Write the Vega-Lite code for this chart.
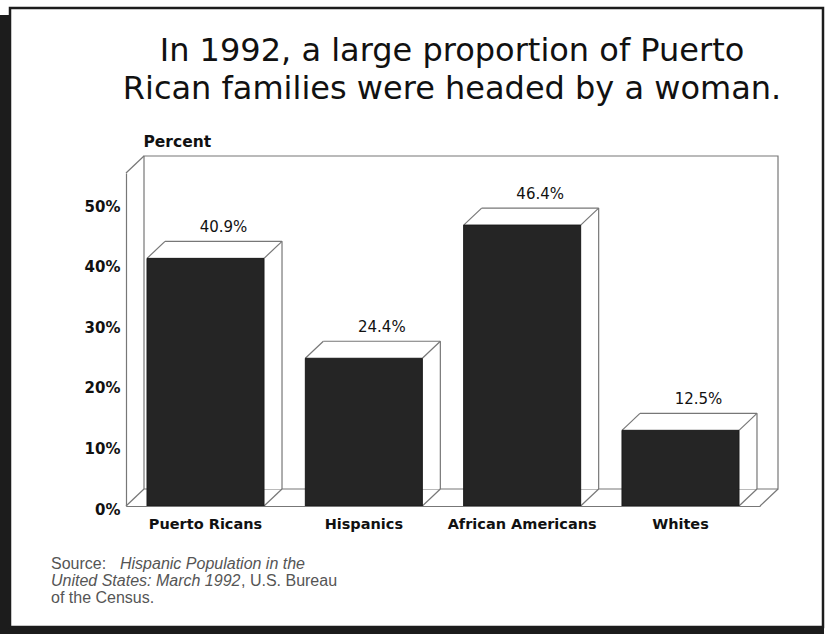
{
  "$schema": "https://vega.github.io/schema/vega-lite/v6.json",
  "width": 634,
  "height": 333,
  "autosize": {"type": "none"},
  "padding": {"left": 126, "top": 173, "right": 73, "bottom": 128},
  "background": "white",
  "config": {"view": {"stroke": null}, "font": "DejaVu Sans"},
  "title": {
    "text": ["In 1992, a large proportion of Puerto", "Rican families were headed by a woman."],
    "font": "DejaVu Sans",
    "fontSize": 32,
    "fontWeight": "normal",
    "color": "#111111",
    "lineHeight": 38,
    "anchor": "middle",
    "frame": "group",
    "dx": 9,
    "offset": 0,
    "dy": 99,
    "zindex": 1
  },
  "data": {
    "values": [
      {"group": "Puerto Ricans", "percent": 40.9, "label": "40.9%"},
      {"group": "Hispanics", "percent": 24.4, "label": "24.4%"},
      {"group": "African Americans", "percent": 46.4, "label": "46.4%"},
      {"group": "Whites", "percent": 12.5, "label": "12.5%"}
    ]
  },
  "layer": [
    {
      "data": {"values": [{}]},
      "encoding": {
        "x": {"datum": 0, "type": "quantitative", "scale": {"domain": [0, 1], "nice": false, "zero": false}, "axis": null}
      },
      "layer": [
        {
          "mark": {"type": "rect", "fill": "#1c1c1c", "xOffset": -126, "x2Offset": -116, "yOffset": -158, "y2Offset": 128},
          "encoding": {"x2": {"datum": 0}, "y": {"datum": 55, "type": "quantitative"}, "y2": {"datum": 0}}
        },
        {
          "mark": {"type": "rect", "fill": "#1c1c1c", "xOffset": -126, "x2Offset": 64, "yOffset": 121, "y2Offset": 128},
          "encoding": {"x2": {"datum": 1}, "y": {"datum": 0, "type": "quantitative"}, "y2": {"datum": 0}}
        },
        {
          "mark": {"type": "rect", "filled": false, "stroke": "#1c1c1c", "strokeWidth": 2.5, "xOffset": -116, "x2Offset": 63, "yOffset": -165, "y2Offset": 121},
          "encoding": {"x2": {"datum": 1}, "y": {"datum": 55, "type": "quantitative"}, "y2": {"datum": 0}}
        },
        {
          "mark": {"type": "rect", "fill": "white", "stroke": "#777777", "strokeWidth": 1.2, "xOffset": 18, "x2Offset": 18, "yOffset": -17, "y2Offset": -17},
          "encoding": {"x2": {"datum": 1}, "y": {"datum": 55, "type": "quantitative"}, "y2": {"datum": 0}}
        },
        {
          "mark": {"type": "rule", "stroke": "#777777", "strokeWidth": 1.2, "x2Offset": 18, "y2Offset": -17},
          "encoding": {"x2": {"datum": 0}, "y": {"datum": 55, "type": "quantitative"}, "y2": {"datum": 55}}
        },
        {
          "mark": {"type": "rule", "stroke": "#777777", "strokeWidth": 1.2, "x2Offset": 18, "y2Offset": -17},
          "encoding": {"x2": {"datum": 0}, "y": {"datum": 0, "type": "quantitative"}, "y2": {"datum": 0}}
        },
        {
          "mark": {"type": "rule", "stroke": "#777777", "strokeWidth": 1.2, "x2Offset": 18, "y2Offset": -17},
          "encoding": {"x": {"datum": 1, "type": "quantitative"}, "x2": {"datum": 1}, "y": {"datum": 0, "type": "quantitative"}, "y2": {"datum": 0}}
        },
        {
          "mark": {"type": "text", "font": "Liberation Sans", "fontSize": 16, "color": "#555555", "align": "left", "baseline": "alphabetic", "dx": -75, "dy": 63},
          "encoding": {"y": {"datum": 0, "type": "quantitative"}, "text": {"value": "Source:"}}
        },
        {
          "mark": {"type": "text", "font": "Liberation Sans", "fontSize": 16, "fontStyle": "italic", "color": "#555555", "align": "left", "baseline": "alphabetic", "dx": -6, "dy": 63},
          "encoding": {"y": {"datum": 0, "type": "quantitative"}, "text": {"value": "Hispanic Population in the"}}
        },
        {
          "mark": {"type": "text", "font": "Liberation Sans", "fontSize": 16, "fontStyle": "italic", "color": "#555555", "align": "left", "baseline": "alphabetic", "dx": -75, "dy": 80},
          "encoding": {"y": {"datum": 0, "type": "quantitative"}, "text": {"value": "United States: March 1992"}}
        },
        {
          "mark": {"type": "text", "font": "Liberation Sans", "fontSize": 16, "color": "#555555", "align": "left", "baseline": "alphabetic", "dx": 115, "dy": 80},
          "encoding": {"y": {"datum": 0, "type": "quantitative"}, "text": {"value": ", U.S. Bureau"}}
        },
        {
          "mark": {"type": "text", "font": "Liberation Sans", "fontSize": 16, "color": "#555555", "align": "left", "baseline": "alphabetic", "dx": -75, "dy": 97},
          "encoding": {"y": {"datum": 0, "type": "quantitative"}, "text": {"value": "of the Census."}}
        }
      ]
    },
    {
      "encoding": {
        "x": {
          "field": "group",
          "type": "nominal",
          "sort": null,
          "scale": {"paddingInner": 0.261, "paddingOuter": 0.1327},
          "axis": {
            "title": null,
            "labelAngle": 0,
            "labelFont": "DejaVu Sans",
            "labelFontWeight": "bold",
            "labelFontSize": 14.5,
            "labelColor": "#111111",
            "labelPadding": 11,
            "ticks": false,
            "domainColor": "#777777",
            "domainWidth": 1.2,
            "zindex": 1
          }
        },
        "y": {
          "field": "percent",
          "type": "quantitative",
          "scale": {"domain": [0, 55], "nice": false},
          "axis": {
            "values": [0, 10, 20, 30, 40, 50],
            "labelExpr": "datum.value + '%'",
            "ticks": false,
            "grid": false,
            "domainColor": "#777777",
            "domainWidth": 1.2,
            "labelFont": "DejaVu Sans",
            "labelFontWeight": "bold",
            "labelFontSize": 15,
            "labelColor": "#111111",
            "labelPadding": 6,
            "labelOffset": 3,
            "title": "Percent",
            "titleFont": "DejaVu Sans",
            "titleAngle": 0,
            "titleAlign": "left",
            "titleBaseline": "alphabetic",
            "titleX": 17,
            "titleY": -27,
            "titleFontSize": 15.5,
            "titleFontWeight": "bold",
            "titleColor": "#111111",
            "zindex": 1
          }
        }
      },
      "layer": [
        {
          "mark": {"type": "rect", "fill": "white", "strokeWidth": 0, "xOffset": 18, "yOffset": -17, "y2Offset": -17},
          "encoding": {"y2": {"datum": 0}}
        },
        {
          "mark": {"type": "rect", "filled": false, "stroke": "#777777", "strokeWidth": 1.2, "xOffset": 18, "yOffset": -17, "y2Offset": -17},
          "encoding": {"y2": {"field": "percent"}}
        },
        {
          "mark": {"type": "rule", "stroke": "#777777", "strokeWidth": 1.2, "xOffset": 18, "yOffset": -17, "y2Offset": -17},
          "encoding": {"x": {"field": "group", "type": "nominal", "sort": null, "bandPosition": 1}, "y2": {"datum": 0}}
        },
        {
          "mark": {"type": "rule", "stroke": "#777777", "strokeWidth": 1.2, "x2Offset": 18, "y2Offset": -17},
          "encoding": {"x": {"field": "group", "type": "nominal", "sort": null, "bandPosition": 0}, "x2": {"field": "group", "bandPosition": 0}, "y2": {"field": "percent"}}
        },
        {
          "mark": {"type": "rule", "stroke": "#777777", "strokeWidth": 1.2, "x2Offset": 18, "y2Offset": -17},
          "encoding": {"x": {"field": "group", "type": "nominal", "sort": null, "bandPosition": 1}, "x2": {"field": "group", "bandPosition": 1}, "y2": {"field": "percent"}}
        },
        {
          "mark": {"type": "rule", "stroke": "#777777", "strokeWidth": 1.2, "x2Offset": 18, "y2Offset": -17},
          "encoding": {"x": {"field": "group", "type": "nominal", "sort": null, "bandPosition": 1}, "x2": {"field": "group", "bandPosition": 1}, "y": {"datum": 0, "type": "quantitative"}, "y2": {"datum": 0}}
        },
        {
          "mark": {"type": "rect", "fill": "#252525", "stroke": "#1a1a1a", "strokeWidth": 1},
          "encoding": {"y2": {"datum": 0}}
        },
        {
          "mark": {"type": "text", "font": "DejaVu Sans", "fontSize": 15, "color": "#111111", "dx": 18, "dy": -26, "baseline": "alphabetic", "align": "center"},
          "encoding": {"text": {"field": "label"}}
        }
      ]
    }
  ],
  "resolve": {"scale": {"x": "independent"}}
}
